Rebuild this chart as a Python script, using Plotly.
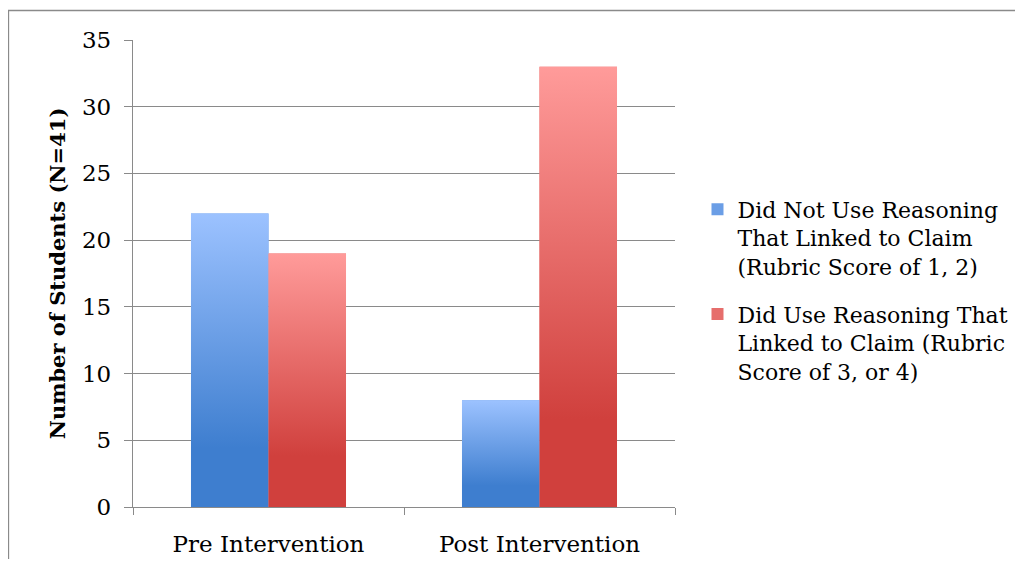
import plotly.graph_objects as go

categories = ["Pre Intervention", "Post Intervention"]
not_used = [22, 8]
used = [19, 33]
series_names = [
    "Did Not Use Reasoning<br>That Linked to Claim<br>(Rubric Score of 1, 2)",
    "Did Use Reasoning That<br>Linked to Claim (Rubric<br>Score of 3, or 4)",
]
y_ticks = [0, 5, 10, 15, 20, 25, 30, 35]

FONT = "DejaVu Serif"
blue_dark, blue_light = "#3e7ecf", "#9cc2ff"
red_dark, red_light = "#d0403d", "#ff9b9a"
GRAY = "#8a8a8a"

bar_w = 0.286
xpos = list(range(len(categories)))

fig = go.Figure()

for name, vals, col, off, grp in [
    (series_names[0], not_used, "#6b9ee6", -bar_w, "a"),
    (series_names[1], used, "#e66e6c", 0.0, "b"),
]:
    fig.add_trace(go.Bar(
        x=xpos, y=vals, name=name, width=bar_w, offset=off, legendgroup=grp,
        marker=dict(color=col, line=dict(width=0)),
    ))

for vals, dark, light, off in [
    (not_used, blue_dark, blue_light, -bar_w),
    (used, red_dark, red_light, 0.0),
]:
    for xi, v in zip(xpos, vals):
        x0 = xi + off
        x1 = x0 + bar_w
        fig.add_trace(go.Scatter(
            x=[x0, x1, x1, x0, x0], y=[0, 0, v, v, 0],
            mode="lines", line=dict(width=0), fill="toself",
            fillgradient=dict(type="vertical",
                              colorscale=[[0, dark], [0.2, dark], [1, light]]),
            showlegend=False, hoverinfo="skip",
        ))

fig.update_layout(
    width=1015, height=551,
    margin=dict(l=125, r=348, t=32, b=52, autoexpand=False),
    paper_bgcolor="white", plot_bgcolor="white",
    barmode="overlay",
    font=dict(family=FONT, color="#000000", size=22),
    legend=dict(
        x=1.0415, xanchor="left", y=0.4636, yanchor="middle",
        font=dict(family=FONT, size=22, color="#000000"),
        valign="top", tracegroupgap=16, bgcolor="rgba(0,0,0,0)",
    ),
    xaxis=dict(
        range=[-0.5, 1.5], tickvals=xpos, ticktext=categories, automargin=False,
        ticks="", showgrid=False, showline=True, linecolor=GRAY, linewidth=1.3,
        zeroline=False, ticklabelstandoff=16,
        minor=dict(tickvals=[-0.5, 0.5, 1.5], ticks="outside", ticklen=7,
                   tickcolor=GRAY, tickwidth=1.3, showgrid=False),
        tickfont=dict(family=FONT, size=23),
    ),
    yaxis=dict(
        range=[0, 35], tickvals=y_ticks, ticks="outside", ticklen=8, automargin=False,
        tickcolor=GRAY, tickwidth=1.3,
        showgrid=True, gridcolor=GRAY, gridwidth=1.3,
        showline=True, linecolor=GRAY, linewidth=1.3, zeroline=False,
        ticklabelstandoff=8,
        tickfont=dict(family=FONT, size=23),
        title=dict(text="<b>Number of Students (N=41)</b>",
                   font=dict(family=FONT, size=21), standoff=10),
    ),
    shapes=[dict(type="rect", xref="paper", yref="paper",
                 x0=-0.2297, x1=2.0, y0=-1.0, y1=1.0632,
                 line=dict(color=GRAY, width=1.3), layer="below")],
)

fig.write_html("out.html")
